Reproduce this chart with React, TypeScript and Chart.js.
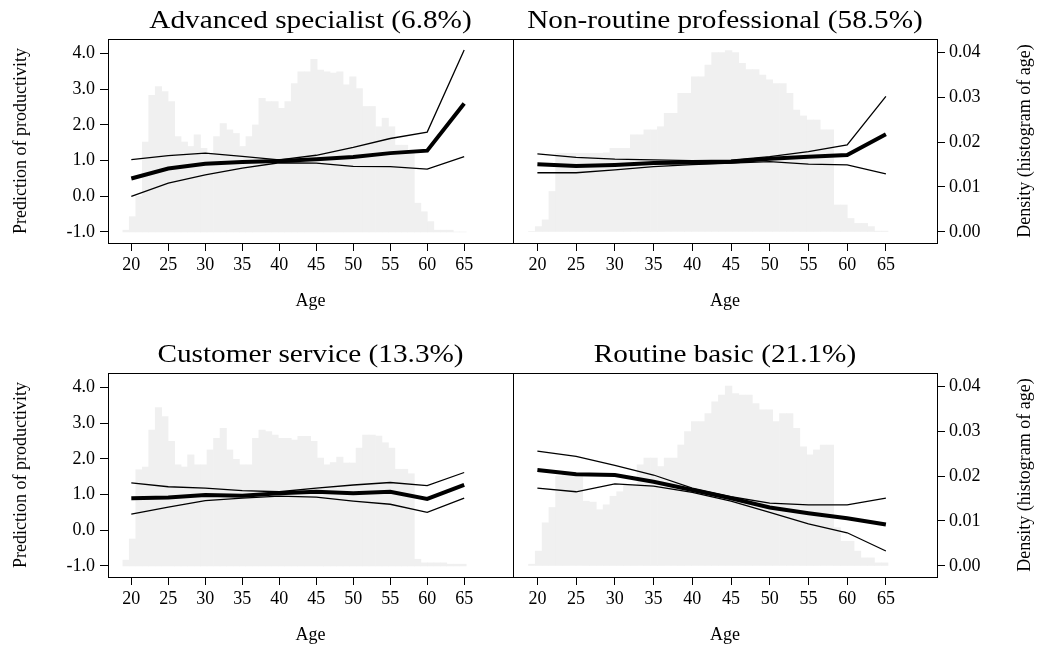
import React, { useEffect, useRef } from 'react';
import { Chart, registerables } from 'chart.js';

Chart.register(...registerables);

// ---------- data ----------
const AGES = [20, 25, 30, 35, 40, 45, 50, 55, 60, 65];
const X_TICKS = [20, 25, 30, 35, 40, 45, 50, 55, 60, 65];
const Y_TICKS = [-1, 0, 1, 2, 3, 4];
const DENSITY_TICKS = [0, 0.01, 0.02, 0.03, 0.04];

// centres of the age-histogram bins
const HIST_BINS = [19.29, 20.16, 21.04, 21.92, 22.79, 23.67, 24.54, 25.42, 26.29, 27.17,
  28.05, 28.92, 29.80, 30.67, 31.55, 32.43, 33.30, 34.18, 35.05, 35.93,
  36.81, 37.68, 38.56, 39.43, 40.31, 41.19, 42.06, 42.94, 43.81, 44.69,
  45.57, 46.44, 47.32, 48.19, 49.07, 49.95, 50.82, 51.70, 52.57, 53.45,
  54.33, 55.20, 56.08, 56.95, 57.83, 58.71, 59.58, 60.46, 61.33, 62.21,
  63.09, 63.96, 64.84];

const TITLES = [
  'Advanced specialist (6.8%)',
  'Non-routine professional (58.5%)',
  'Customer service (13.3%)',
  'Routine basic (21.1%)',
];

const ADV_PRED = [0.50, 0.78, 0.91, 0.96, 0.99, 1.04, 1.10, 1.21, 1.28, 2.60];
const ADV_UPPER = [1.03, 1.14, 1.21, 1.12, 1.02, 1.15, 1.37, 1.62, 1.80, 4.10];
const ADV_LOWER = [0.00, 0.37, 0.60, 0.79, 0.94, 0.93, 0.84, 0.83, 0.76, 1.11];
const ADV_HIST = [0.0004, 0.0034, 0.0079, 0.020, 0.0304, 0.0323, 0.0312, 0.029, 0.0212, 0.020,
  0.019, 0.0216, 0.0186, 0.0175, 0.0212, 0.0241, 0.0227, 0.0219, 0.019, 0.0212,
  0.0238, 0.0297, 0.029, 0.029, 0.0275, 0.029, 0.033, 0.0356, 0.0356, 0.0384,
  0.036, 0.0356, 0.0353, 0.0356, 0.0327, 0.0345, 0.0319, 0.0279, 0.0279, 0.0234,
  0.0253, 0.0234, 0.0193, 0.0193, 0.0175, 0.0064, 0.0045, 0.0023, 0.0004, 0.0004,
  0.0004, 0, 0];

const NRP_PRED = [0.90, 0.85, 0.88, 0.93, 0.95, 0.97, 1.05, 1.11, 1.16, 1.74];
const NRP_UPPER = [1.19, 1.09, 1.04, 1.02, 1.00, 1.01, 1.11, 1.25, 1.44, 2.80];
const NRP_LOWER = [0.66, 0.66, 0.74, 0.83, 0.89, 0.93, 0.97, 0.90, 0.88, 0.63];
const NRP_HIST = [0.0001, 0.0012, 0.0027, 0.009, 0.0175, 0.0175, 0.0175, 0.0175, 0.0175, 0.0175,
  0.0175, 0.0176, 0.0186, 0.0186, 0.0186, 0.0216, 0.0216, 0.0227, 0.0227, 0.0234,
  0.0264, 0.0264, 0.0308, 0.0308, 0.0345, 0.0345, 0.0371, 0.0399, 0.0399, 0.0403,
  0.0399, 0.0375, 0.0361, 0.0361, 0.0349, 0.0338, 0.033, 0.033, 0.0308, 0.0271,
  0.0258, 0.0249, 0.0249, 0.0227, 0.0227, 0.006, 0.006, 0.003, 0.0019, 0.0019,
  0.0012, 0.0002, 0.0002];

const CS_PRED = [0.90, 0.92, 0.99, 0.97, 1.04, 1.08, 1.04, 1.08, 0.88, 1.27];
const CS_UPPER = [1.33, 1.22, 1.18, 1.11, 1.08, 1.18, 1.27, 1.34, 1.25, 1.62];
const CS_LOWER = [0.45, 0.65, 0.83, 0.90, 0.96, 0.93, 0.82, 0.73, 0.50, 0.90];
const CS_HIST = [0.0013, 0.006, 0.0214, 0.022, 0.0302, 0.0352, 0.0332, 0.0277, 0.0225, 0.022,
  0.0247, 0.0225, 0.0225, 0.0258, 0.0284, 0.0306, 0.0258, 0.0237, 0.0225, 0.0225,
  0.0284, 0.0302, 0.0299, 0.0291, 0.0284, 0.0284, 0.028, 0.0288, 0.0288, 0.0277,
  0.024, 0.0225, 0.023, 0.0242, 0.0229, 0.0229, 0.0262, 0.0291, 0.0291, 0.0289,
  0.0274, 0.0262, 0.0215, 0.0215, 0.0205, 0.0015, 0.0007, 0.0007, 0.0007, 0.0007,
  0.0004, 0.0004, 0.0004];

const RB_PRED = [1.69, 1.57, 1.55, 1.36, 1.13, 0.90, 0.64, 0.48, 0.34, 0.16];
const RB_UPPER = [2.22, 2.07, 1.82, 1.55, 1.18, 0.94, 0.76, 0.71, 0.71, 0.90];
const RB_LOWER = [1.18, 1.08, 1.30, 1.24, 1.06, 0.82, 0.50, 0.18, -0.07, -0.58];
const RB_HIST = [0.0004, 0.0033, 0.0096, 0.013, 0.020, 0.0203, 0.0203, 0.0203, 0.0144, 0.0142,
  0.0125, 0.0136, 0.0155, 0.0165, 0.0181, 0.0181, 0.0225, 0.024, 0.024, 0.0221,
  0.024, 0.024, 0.0269, 0.0299, 0.0321, 0.0321, 0.0339, 0.0365, 0.038, 0.040,
  0.0383, 0.038, 0.038, 0.0361, 0.0347, 0.0347, 0.0321, 0.0339, 0.0339, 0.0306,
  0.0265, 0.0247, 0.0258, 0.0269, 0.0269, 0.0085, 0.0055, 0.0055, 0.0033, 0.0018,
  0.0018, 0.0007, 0.0007];

// ---------- styling / layout ----------
const FONT = '"Liberation Serif", "Times New Roman", serif';
const HIST_COLOR = '#f0f0f0';
const TITLE_STRETCH = 1.17;

const boxPlugin = {
  id: 'box',
  afterDatasetsDraw(chart: any) {
    const { ctx, chartArea } = chart;
    const { left, top, right, bottom } = chartArea;
    ctx.save();
    ctx.strokeStyle = '#000';
    ctx.lineWidth = 1;
    ctx.strokeRect(left + 0.5, top + 0.5, right - left, bottom - top);
    ctx.restore();
  },
};

// widen the panel title horizontally (the reference type is stretched)
const stretchTitlePlugin = {
  id: 'stretchTitle',
  afterLayout(chart: any) {
    const tb = chart.titleBlock;
    if (!tb || tb.__stretched) return;
    const orig = tb.draw;
    tb.draw = function (...args: any[]) {
      const ctx = this.ctx;
      const cx = (this.left + this.right) / 2;
      ctx.save();
      ctx.translate(cx, 0);
      ctx.scale(TITLE_STRETCH, 1);
      ctx.translate(-cx, 0);
      orig.apply(this, args);
      ctx.restore();
    };
    tb.__stretched = true;
  },
};

const sideTitlePlugin = {
  id: 'sideTitle',
  afterDraw(chart: any, _args: any, opts: any) {
    if (!opts || !opts.text) return;
    const { ctx, chartArea } = chart;
    ctx.save();
    ctx.translate(opts.x, (chartArea.top + chartArea.bottom) / 2);
    ctx.rotate(-Math.PI / 2);
    ctx.textAlign = 'center';
    ctx.textBaseline = 'middle';
    ctx.fillStyle = '#000';
    ctx.font = `${opts.size}px ${FONT}`;
    ctx.fillText(opts.text, 0, 0);
    ctx.restore();
  },
};

type PanelProps = {
  title: string;
  pred: number[];
  upper: number[];
  lower: number[];
  hist: number[];
  side: 'left' | 'right';
  left: number;
  top: number;
};

const CANVAS_H = 315;

function Panel({ title, pred, upper, lower, hist, side, left, top }: PanelProps) {
  const ref = useRef<HTMLCanvasElement>(null);
  const W = side === 'left' ? 520 : 540;

  useEffect(() => {
    const isLeft = side === 'left';
    const tickFont = { family: FONT, size: 18 };
    const titleFont = { family: FONT, size: 18 };
    const grid = {
      display: true,
      drawOnChartArea: false,
      drawTicks: true,
      tickLength: 8,
      color: '#000',
      lineWidth: 1,
      offset: false,
    };
    const line = (vals: number[], width: number) => ({
      type: 'line' as const,
      data: AGES.map((a, i) => ({ x: a, y: vals[i] })),
      xAxisID: 'x',
      yAxisID: 'y',
      borderColor: '#000',
      borderWidth: width,
      pointRadius: 0,
      tension: 0,
      order: 1,
    });

    const chart = new Chart(ref.current as HTMLCanvasElement, {
      type: 'bar',
      data: {
        datasets: [
          line(pred, 4),
          line(upper, 1.3),
          line(lower, 1.3),
          {
            type: 'bar',
            data: HIST_BINS.map((c, i) => ({ x: c, y: hist[i] })),
            xAxisID: 'x',
            yAxisID: 'y1',
            backgroundColor: HIST_COLOR,
            borderWidth: 0,
            barPercentage: 1,
            categoryPercentage: 1,
            order: 10,
          } as any,
        ],
      },
      options: {
        responsive: false,
        animation: false,
        devicePixelRatio: 1,
        layout: {
          padding: { left: isLeft ? 0 : 13, right: isLeft ? 7 : 0, top: 0, bottom: 0 },
        },
        plugins: {
          legend: { display: false },
          tooltip: { enabled: false },
          title: {
            display: true,
            text: title,
            fullSize: false,
            color: '#000',
            font: { family: FONT, size: 25, weight: 'normal' },
            padding: { top: 6.5, bottom: 2.5 },
          },
          sideTitle: isLeft ? {} : { text: 'Density (histogram of age)', x: 525, size: 18 },
        } as any,
        scales: {
          x: {
            type: 'linear',
            position: 'bottom',
            offset: false,
            min: 16.85,
            max: 71.6,
            afterBuildTicks: (s: any) => {
              s.ticks = X_TICKS.map((v) => ({ value: v }));
            },
            afterFit: (s: any) => {
              s.height = CANVAS_H - 243;
              s.paddingLeft = 0;
              s.paddingRight = 0;
            },
            grid,
            border: { display: false },
            ticks: { font: tickFont, color: '#000', padding: 3, maxRotation: 0, autoSkip: false },
            title: { display: true, text: 'Age', font: titleFont, color: '#000', padding: { top: 0, bottom: 3 } },
          },
          y: {
            type: 'linear',
            position: 'left',
            display: isLeft,
            min: -1.31,
            max: 4.41,
            afterBuildTicks: (s: any) => {
              s.ticks = Y_TICKS.map((v) => ({ value: v }));
            },
            afterFit: (s: any) => {
              s.width = isLeft ? 108 : 0;
              s.paddingTop = 0;
              s.paddingBottom = 0;
            },
            grid,
            border: { display: false },
            ticks: {
              font: tickFont,
              color: '#000',
              padding: 5,
              callback: (v: any) => Number(v).toFixed(1),
            },
            title: {
              display: true,
              text: 'Prediction of productivity',
              font: titleFont,
              color: '#000',
              padding: { top: 10, bottom: 0 },
            },
          },
          y1: {
            type: 'linear',
            position: 'right',
            display: !isLeft,
            min: -0.00245,
            max: 0.0429,
            afterBuildTicks: (s: any) => {
              s.ticks = DENSITY_TICKS.map((v) => ({ value: v }));
            },
            afterFit: (s: any) => {
              s.width = isLeft ? 0 : W - 437;
              s.paddingTop = 0;
              s.paddingBottom = 0;
            },
            grid,
            border: { display: false },
            ticks: {
              font: tickFont,
              color: '#000',
              padding: 4,
              callback: (v: any) => Number(v).toFixed(2),
            },
          },
        },
      } as any,
      plugins: [boxPlugin, stretchTitlePlugin, sideTitlePlugin],
    });
    return () => chart.destroy();
  }, []);

  return (
    <canvas
      ref={ref}
      width={W}
      height={CANVAS_H}
      style={{ position: 'absolute', left, top, width: W, height: CANVAS_H }}
    />
  );
}

export default function App() {
  return (
    <div style={{ position: 'absolute', left: 0, top: 0, width: 1040, height: 649, background: '#fff', overflow: 'hidden' }}>
      <Panel title={TITLES[0]} pred={ADV_PRED} upper={ADV_UPPER} lower={ADV_LOWER} hist={ADV_HIST} side="left" left={0} top={0} />
      <Panel title={TITLES[1]} pred={NRP_PRED} upper={NRP_UPPER} lower={NRP_LOWER} hist={NRP_HIST} side="right" left={500} top={0} />
      <Panel title={TITLES[2]} pred={CS_PRED} upper={CS_UPPER} lower={CS_LOWER} hist={CS_HIST} side="left" left={0} top={334} />
      <Panel title={TITLES[3]} pred={RB_PRED} upper={RB_UPPER} lower={RB_LOWER} hist={RB_HIST} side="right" left={500} top={334} />
    </div>
  );
}
